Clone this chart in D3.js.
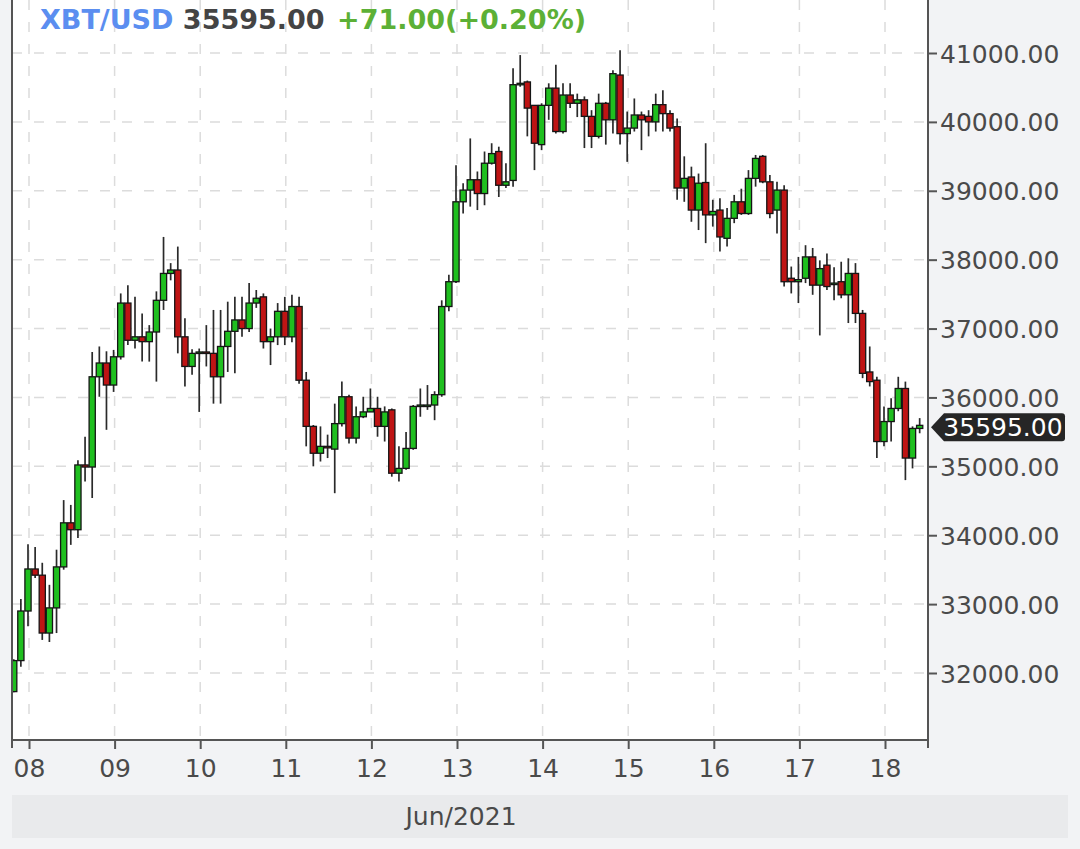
<!DOCTYPE html>
<html>
<head>
<meta charset="utf-8">
<script src="https://cdn.jsdelivr.net/npm/d3@7/dist/d3.min.js"></script>
<style>
  html, body { margin: 0; padding: 0; background: #f2f3f5; }
  svg { display: block; }
</style>
</head>
<body>
<svg id="chart" width="1080" height="849"></svg>
<script>
// ---- data: 2-hour candles, XBT/USD, starting 7 Jun 2021 20:00 ----
const startTime = Date.UTC(2021, 5, 7, 20);
const stepHours = 2;
const opens = [31730,32180,32900,33510,33420,32580,32945,33540,34180,34080,
  35020,34990,36300,36500,36180,36590,37370,36830,36880,36810,
  36950,37410,37800,37850,36880,36450,36640,36660,36640,36300,
  36740,36960,37125,37000,37370,37460,36810,36880,37250,36880,
  37320,36250,35580,35190,35290,35250,35620,36010,35410,35720,
  35790,35840,35580,35820,34900,34970,35260,35870,35890,35890,
  36040,37320,37680,38840,39010,39160,38960,39400,39570,39080,
  39150,40540,40580,40240,39670,40240,40490,39860,40390,40270,
  40320,40080,39790,40270,40030,40680,39830,39910,40100,40080,
  40000,40250,40120,39930,39040,39200,38720,39120,38650,38720,
  38310,38600,38840,38670,39180,39500,39130,38720,39010,37730,
  37680,37730,38040,37630,37920,37650,37680,37490,37800,37220,
  36370,36250,35360,35650,35840,36130,35120,35550];
const highs = [32200,33075,33870,33830,33600,33280,33790,34510,34440,35090,
  35430,36660,36740,36670,36690,37510,37630,37460,37220,37050,
  37540,38330,37950,38190,37150,36700,36710,37050,37270,37270,
  37390,37460,37460,37660,37560,37510,37000,37370,37460,37490,
  37460,36370,35600,35580,35460,35910,36230,36040,35870,36010,
  36130,36010,35870,35840,35290,35500,35890,36130,36180,36090,
  37410,37780,39370,39110,39760,39280,39570,39690,39640,39400,
  40780,40970,40600,40240,40270,40560,40830,40560,40560,40410,
  40370,40170,40410,40290,40750,41040,40150,40340,40150,40170,
  40410,40460,40170,40050,39500,39350,39250,39690,38870,38890,
  38750,38940,39030,39300,39520,39520,39230,39130,39080,37900,
  38040,38210,38170,37990,38090,37890,37970,38020,37950,37270,
  36740,36300,35870,35990,36300,36230,35580,35700];
const lows = [31720,32090,32680,33380,32480,32450,32580,33500,33860,33960,
  34780,34540,36010,35530,36080,36550,36760,36710,36520,36520,
  36230,37270,37700,36640,36160,36330,35790,36450,35910,35910,
  36370,36350,36880,36950,37300,36710,36470,36760,36760,36800,
  36200,35290,35000,35070,35120,34610,35580,35330,35330,35700,
  35790,35430,35360,34850,34780,34950,35240,35720,35820,35670,
  36010,37250,37660,38670,38770,38720,38790,39380,38910,39040,
  39060,40510,39790,39300,39590,40030,39830,39830,40200,40070,
  39620,39620,39760,39670,39830,39670,39420,39860,39590,39790,
  39860,39860,39860,38870,38840,38550,38430,38240,38480,38120,
  38190,38530,38650,38650,39060,39110,38600,38380,37610,37510,
  37370,37660,37490,36900,37560,37410,37440,37080,37080,36280,
  36160,35120,35290,35360,35800,34800,34970,35480];
const closes = [32180,32900,33510,33420,32580,32945,33540,34180,34080,35020,
  34990,36300,36500,36180,36590,37370,36830,36880,36810,36950,
  37410,37800,37850,36880,36450,36640,36660,36640,36300,36740,
  36960,37125,37000,37370,37440,36810,36880,37250,36880,37320,
  36250,35580,35190,35290,35280,35620,36010,35410,35720,35790,
  35840,35580,35790,34900,34970,35260,35870,35890,35890,36040,
  37320,37680,38840,39010,39160,38960,39400,39540,39080,39130,
  40540,40560,40200,39690,40240,40490,39860,40390,40270,40320,
  40080,39790,40270,40030,40700,39830,39910,40100,40030,40000,
  40250,40120,39910,39040,39180,38720,39110,38650,38700,38330,
  38600,38840,38670,39180,39470,39130,38670,39010,37680,37680,
  37710,38040,37630,37870,37610,37660,37490,37800,37220,36350,
  36230,35360,35650,35840,36130,35120,35550,35595];
const priceTicks = [32000,33000,34000,35000,36000,37000,38000,39000,40000,41000];
const dayTicks = ["2021-06-08","2021-06-09","2021-06-10","2021-06-11","2021-06-12",
  "2021-06-13","2021-06-14","2021-06-15","2021-06-16","2021-06-17","2021-06-18"];
const symbol = "XBT/USD";
const lastPrice = "35595.00";
const change = "+71.00(+0.20%)";
const monthLabel = "Jun/2021";

// ---- layout ----
const plotL = 12, plotR = 928, plotT = 0, plotB = 740;
const FONT = "'DejaVu Sans', Verdana, sans-serif";

const candles = opens.map((o, i) => ({
  t: new Date(startTime + i * stepHours * 3600 * 1000),
  o, h: highs[i], l: lows[i], c: closes[i]
}));

const x = d3.scaleUtc()
  .domain([new Date("2021-06-08T00:00:00Z"), new Date("2021-06-18T00:00:00Z")])
  .range([29, 885]);
const y = d3.scaleLinear().domain([32000, 41000]).range([673, 53]);

const svg = d3.select("#chart");

// background
svg.append("rect").attr("width", 1080).attr("height", 849).attr("fill", "#f2f3f5");
svg.append("rect").attr("x", plotL).attr("y", plotT)
  .attr("width", plotR - plotL).attr("height", plotB - plotT).attr("fill", "#ffffff");

// month band
svg.append("rect").attr("x", 12).attr("y", 795).attr("width", 1056).attr("height", 43)
  .attr("fill", "#e9eaec");
svg.append("text").attr("x", 461).attr("y", 825).attr("text-anchor", "middle")
  .attr("font-family", FONT).attr("font-size", 25).attr("fill", "#4a4a4a")
  .text(monthLabel);

// grid
const grid = svg.append("g").attr("stroke", "#dcdcdc").attr("stroke-width", 1.5)
  .attr("stroke-dasharray", "10,12");
grid.selectAll("line.h").data(priceTicks).join("line")
  .attr("x1", plotL).attr("x2", plotR)
  .attr("y1", d => y(d)).attr("y2", d => y(d));
grid.selectAll("line.v").data(dayTicks).join("line")
  .attr("x1", d => x(new Date(d + "T00:00:00Z"))).attr("x2", d => x(new Date(d + "T00:00:00Z")))
  .attr("y1", plotT).attr("y2", plotB);

// candles
svg.append("clipPath").attr("id", "clip").append("rect")
  .attr("x", plotL + 1).attr("y", plotT).attr("width", plotR - plotL - 2).attr("height", plotB - plotT);
const cg = svg.append("g").attr("clip-path", "url(#clip)");
const bw = 6.2;
cg.selectAll("line.wick").data(candles).join("line")
  .attr("x1", d => x(d.t) - 1).attr("x2", d => x(d.t) - 1)
  .attr("y1", d => y(d.h)).attr("y2", d => y(d.l))
  .attr("stroke", "#2a2a2a").attr("stroke-width", 1.7);
cg.selectAll("rect.body").data(candles).join("rect")
  .attr("x", d => x(d.t) - 1 - bw / 2).attr("width", bw)
  .attr("y", d => y(Math.max(d.o, d.c)))
  .attr("height", d => Math.max(1.5, Math.abs(y(d.o) - y(d.c))))
  .attr("fill", d => d.c >= d.o ? "#1fbf1f" : "#bf1414")
  .attr("stroke", "#151515").attr("stroke-width", 1.3);

// axes
const axisColor = "#555";
const yAxis = svg.append("g").attr("transform", `translate(${plotR},0)`)
  .call(d3.axisRight(y).tickValues(priceTicks).tickFormat(d3.format(".2f")).tickSize(9).tickPadding(3));
yAxis.select(".domain").remove();
yAxis.selectAll(".tick line").attr("stroke", axisColor).attr("stroke-width", 2);
yAxis.selectAll(".tick text").attr("font-family", FONT).attr("font-size", 25)
  .attr("fill", "#4a4a4a").attr("dy", "0.36em");

const xAxis = svg.append("g").attr("transform", `translate(0,${plotB})`)
  .call(d3.axisBottom(x).tickValues(dayTicks.map(d => new Date(d + "T00:00:00Z")))
    .tickFormat(d3.utcFormat("%d")).tickSize(9).tickPadding(10));
xAxis.select(".domain").remove();
xAxis.selectAll(".tick line").attr("stroke", axisColor).attr("stroke-width", 2);
xAxis.selectAll(".tick text").attr("font-family", FONT).attr("font-size", 25)
  .attr("fill", "#4a4a4a");

// frame
const frame = svg.append("g").attr("stroke", axisColor).attr("stroke-width", 2).attr("fill", "none");
frame.append("line").attr("x1", plotL).attr("x2", plotL).attr("y1", 0).attr("y2", plotB + 8);
frame.append("line").attr("x1", plotR).attr("x2", plotR).attr("y1", 0).attr("y2", plotB + 8);
frame.append("line").attr("x1", plotL).attr("x2", plotR).attr("y1", plotB).attr("y2", plotB);

// last price tag
const ty = y(closes[closes.length - 1]) + 2;
svg.append("path")
  .attr("d", `M${plotR + 3},${ty} L${plotR + 16},${ty - 14} H1062 Q1065,${ty - 14} 1065,${ty - 11} V${ty + 11} Q1065,${ty + 14} 1062,${ty + 14} H${plotR + 16} Z`)
  .attr("fill", "#262626");
svg.append("text").attr("x", 1003).attr("y", ty).attr("dy", "0.36em")
  .attr("text-anchor", "middle").attr("font-family", FONT).attr("font-size", 25)
  .attr("fill", "#ffffff").text(lastPrice);

// title
const title = svg.append("text").attr("x", 40).attr("y", 29)
  .attr("font-family", FONT).attr("font-size", 27).attr("font-weight", "bold");
title.append("tspan").attr("fill", "#5b8ef0").text(symbol + " ");
title.append("tspan").attr("fill", "#444444").text(lastPrice + " ");
title.append("tspan").attr("fill", "#5cb036").attr("dx", 3).text(change);
</script>
</body>
</html>
